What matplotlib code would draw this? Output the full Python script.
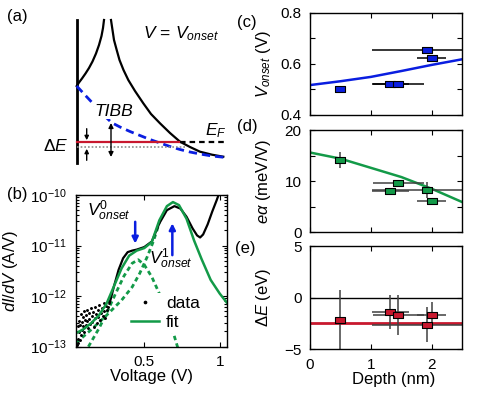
import numpy as np
import matplotlib
matplotlib.use("Agg")
import matplotlib.pyplot as plt
from matplotlib.ticker import LogLocator, NullFormatter

plt.rcParams['font.family'] = ['Liberation Sans', 'DejaVu Sans']
plt.rcParams['mathtext.fontset'] = 'custom'
plt.rcParams['mathtext.rm'] = 'Liberation Sans'
plt.rcParams['mathtext.it'] = 'Liberation Sans:italic'
plt.rcParams['mathtext.bf'] = 'Liberation Sans:bold'
plt.rcParams['font.size'] = 11

green = '#139a48'
blue = '#0a1ee0'
red = '#c8182e'

# ---- panel (a) schematic, in pixel units of the panel
wall_x = 76.7
wall_y = [20, 163]
band_left_x = [76.7, 79, 82, 85.5, 89, 92.5, 96, 99, 101.5, 103, 104]
band_left_y = [86, 82.5, 78.5, 73.5, 68, 61.5, 53.5, 45, 36, 28, 20]
band_right_x = [111, 112.5, 114, 116.7, 119.5, 123.5, 128.3, 135, 143.3, 151, 160, 170, 180, 190, 200, 212, 223.3]
band_right_y = [20, 30, 40, 50, 60, 70, 80, 91, 103.3, 114, 123.3, 133, 141.7, 147, 151.7, 154.7, 156.7]
tibb_x = [76.7, 85, 93, 102, 111.7, 120, 130, 140, 150, 160, 170, 180, 190, 200, 212, 224]
tibb_y = [86, 95, 103.5, 113.5, 122.7, 127, 131.5, 135.5, 139.5, 143, 146.5, 149.5, 152, 154, 156, 157.3]
ef_y = 141.7
ef_red_x = [76.7, 180]
ef_dash_x = [180, 224]
tip_level_y = 147.3
tip_level_x = [76.7, 186]

# ---- panel (b) dI/dV spectrum, values as log10(A/V)
v_dots = [0.056, 0.058, 0.061, 0.064, 0.067, 0.070, 0.073, 0.077, 0.080, 0.083, 0.087, 0.090,
          0.094, 0.097, 0.101, 0.104, 0.108, 0.112, 0.116, 0.119, 0.124, 0.128, 0.133, 0.137,
          0.142, 0.146, 0.151, 0.156, 0.160, 0.165, 0.171, 0.175, 0.181, 0.186, 0.191, 0.197,
          0.203, 0.208, 0.214, 0.219, 0.225, 0.231, 0.236, 0.241, 0.247, 0.252, 0.258, 0.263,
          0.268, 0.274]
log_dots = [-12.97, -12.84, -12.60, -12.93, -12.71, -12.49, -12.86, -12.58, -12.36, -12.77, -12.52, -12.66,
            -12.41, -12.60, -12.30, -12.71, -12.47, -12.38, -12.58, -12.27, -12.49, -12.63, -12.33, -12.45,
            -12.56, -12.24, -12.40, -12.52, -12.31, -12.61, -12.21, -12.44, -12.36, -12.53, -12.27, -12.41,
            -12.18, -12.47, -12.33, -12.24, -12.39, -12.13, -12.30, -12.43, -12.19, -12.27, -12.08, -12.22,
            -12.12, -12.02]
v_data = [0.27, 0.30, 0.33, 0.36, 0.39, 0.42, 0.45, 0.50, 0.55, 0.60, 0.65, 0.70, 0.74, 0.78,
          0.82, 0.85, 0.87, 0.89, 0.92, 0.95, 0.98, 1.01]
log_data = [-12.15, -11.80, -11.48, -11.25, -11.13, -11.10, -11.08, -11.03, -10.92, -10.56, -10.30,
            -10.22, -10.27, -10.43, -10.66, -10.80, -10.84, -10.78, -10.58, -10.33, -10.10, -9.85]
v_fit = [0.05, 0.10, 0.15, 0.20, 0.25, 0.30, 0.35, 0.40, 0.45, 0.50, 0.55, 0.60, 0.65, 0.69,
         0.73, 0.78, 0.83, 0.88, 0.94, 1.00, 1.05]
log_fit = [-12.73, -12.65, -12.53, -12.38, -12.15, -11.80, -11.45, -11.20, -11.10, -11.05, -10.93,
           -10.50, -10.22, -10.14, -10.20, -10.47, -10.90, -11.27, -11.68, -11.95, -12.14]
v_peak0 = [0.13, 0.20, 0.255, 0.31, 0.366, 0.42, 0.46, 0.50, 0.55, 0.60, 0.65, 0.70, 0.725]
log_peak0 = [-13.0, -12.64, -12.31, -11.95, -11.60, -11.35, -11.28, -11.38, -11.62, -11.95, -12.35, -12.8, -13.05]
v_peak1 = [0.05, 0.15, 0.25, 0.35, 0.42, 0.47, 0.52, 0.56, 0.60]
log_peak1 = [-12.92, -12.66, -12.38, -12.08, -11.82, -11.55, -11.22, -10.92, -10.55]
v_onset0 = 0.44
v_onset1 = 0.686
arrow0_log = [-10.53, -10.96]
arrow1_log = [-11.19, -10.56]

# ---- panels (c)-(e) vs depth
depth = [0.5, 1.32, 1.45, 1.92, 2.0]
depth_err = [0.0, 0.30, 0.42, 0.90, 0.24]
v_onset = [0.50, 0.52, 0.52, 0.653, 0.622]
e_alpha = [14.1, 8.0, 9.6, 8.3, 6.05]
e_alpha_err = [1.6, 0, 0, 1.5, 0]
delta_e = [-2.2, -1.4, -1.65, -2.6, -1.7]
delta_e_err = [2.9, 1.65, 1.95, 1.7, 1.25]
depth_model = [0, 0.5, 1.0, 1.5, 2.0, 2.5]
v_onset_model = [0.517, 0.532, 0.549, 0.572, 0.596, 0.618]
e_alpha_model = [15.6, 14.4, 12.6, 10.8, 8.5, 5.9]
delta_e_mean = -2.5

W, H = 491, 396
LAB = 12
fig = plt.figure(figsize=(W / 100, H / 100), dpi=100)


def px_axes(l, t, r, b):
    return fig.add_axes([l / W, 1 - b / H, (r - l) / W, (b - t) / H])


def style(ax):
    ax.tick_params(which='both', direction='in', top=True, right=True, length=3.5, width=0.8,
                   labelsize=11)
    for s in ax.spines.values():
        s.set_linewidth(1.0)


# (a)
axa = px_axes(0, 0, 245, 175)
axa.set_xlim(0, 245)
axa.set_ylim(175, 0)
axa.axis('off')
axa.plot([wall_x, wall_x], wall_y, 'k-', lw=2)
axa.plot(band_left_x, band_left_y, 'k-', lw=1.6)
axa.plot(band_right_x, band_right_y, 'k-', lw=1.6)
axa.plot(tibb_x, tibb_y, color=blue, lw=2, ls=(0, (3, 1.8)))
axa.plot(tip_level_x, [tip_level_y] * 2, color='0.55', lw=1.2, ls=(0, (1, 1.2)))
axa.plot(ef_red_x, [ef_y] * 2, color=red, lw=1.6)
axa.plot(ef_dash_x, [ef_y] * 2, 'k-', lw=1.6, ls=(0, (2.5, 1.8)))
ap = dict(arrowstyle='-|>', lw=1, color='k', mutation_scale=6, shrinkA=0, shrinkB=0)
axa.annotate('', xy=(86.7, ef_y - 1.5), xytext=(86.7, ef_y - 13), arrowprops=ap)
axa.annotate('', xy=(86.7, tip_level_y + 1.5), xytext=(86.7, tip_level_y + 13), arrowprops=ap)
axa.text(94, 116, 'TIBB', fontsize=12.5, style='italic',
         bbox=dict(facecolor='white', edgecolor='none', pad=0.3))
axa.annotate('', xy=(111, 123), xytext=(111, 157),
             arrowprops=dict(arrowstyle='<|-|>', lw=1, color='k', mutation_scale=7, shrinkA=0, shrinkB=0))
axa.text(143, 38, r'$V\,=\,V_{onset}$', fontsize=12.5)
axa.text(205, 135, r'$E_F$', fontsize=12.5)
axa.text(68, 151, r'$\Delta E$', fontsize=12.5, ha='right')

# (b)
axb = px_axes(76.3, 195, 227.3, 346.7)
axb.plot(v_peak1, 10.0 ** np.array(log_peak1), color=green, lw=2, ls=(0, (1.6, 1.2)))
axb.plot(v_peak0, 10.0 ** np.array(log_peak0), color=green, lw=2, ls=(0, (1.6, 1.2)))
axb.plot(v_dots, 10.0 ** np.array(log_dots), 'k.', ms=2.2, label='data')
axb.plot(v_data, 10.0 ** np.array(log_data), 'k-', lw=1.6)
axb.plot(v_fit, 10.0 ** np.array(log_fit), color=green, lw=1.8, label='fit')
axb.set_yscale('log')
axb.set_xlim(0.05, 1.05)
axb.set_ylim(1e-13, 1e-10)
axb.set_xticks([0.5, 1])
axb.set_xticklabels(['0.5', '1'])
axb.yaxis.set_minor_locator(LogLocator(base=10, subs=np.arange(2, 10)))
axb.yaxis.set_minor_formatter(NullFormatter())
style(axb)
axb.tick_params(which='minor', length=2)
axb.tick_params(axis='y', pad=7)
axb.tick_params(axis='x', pad=6)
axb.set_xlabel('Voltage (V)', fontsize=LAB)
axb.xaxis.set_label_coords(0.5, -0.15)
axb.set_ylabel(r'$dI/dV$ (A/V)', fontsize=LAB)
axb.yaxis.set_label_coords(-0.37, 0.5)
for v, lg in [(v_onset0, arrow0_log), (v_onset1, arrow1_log)]:
    axb.annotate('', xy=(v, 10 ** lg[1]), xytext=(v, 10 ** lg[0]),
                 arrowprops=dict(arrowstyle='-|>', lw=1.8, color=blue, mutation_scale=9, shrinkA=0, shrinkB=0))
axb.text(0.122, 10 ** -10.42, r'$V^0_{onset}$', fontsize=12.5)
axb.text(0.53, 10 ** -11.36, r'$V^1_{onset}$', fontsize=12.5)
leg = axb.legend(loc='lower right', bbox_to_anchor=(0.9, 0.03), fontsize=12.5, handlelength=1.6,
                 handletextpad=0.4, labelspacing=0.2, borderpad=0.2, markerscale=1.5)
leg.get_frame().set_edgecolor('none')
leg.get_frame().set_alpha(1)

# (c)-(e)
rect = [(-1.4, -1), (1.4, -1), (1.4, 1), (-1.4, 1), (-1.4, -1)]
axc = px_axes(310, 12.7, 462.3, 115)
axd = px_axes(310, 130, 462.3, 232.3)
axe = px_axes(310, 246, 462.3, 349.3)

axc.plot(depth_model, v_onset_model, color=blue, lw=1.8, zorder=1)
axc.errorbar(depth, v_onset, xerr=depth_err, fmt='none', ecolor='k', elinewidth=1.1, zorder=2)
axc.plot(depth, v_onset, ls='none', marker=rect, ms=7, mfc=blue, mec='k', mew=0.8, zorder=3)
axc.set_ylim(0.4, 0.8)
axc.set_yticks([0.4, 0.6, 0.8])
axc.set_yticks([0.5, 0.7], minor=True)
axc.set_ylabel(r'$V_{onset}$ (V)', fontsize=LAB)

axd.plot(depth_model, e_alpha_model, color=green, lw=1.8, zorder=1)
axd.errorbar(depth, e_alpha, xerr=depth_err, yerr=e_alpha_err, fmt='none', ecolor='0.25',
             elinewidth=1.1, zorder=2)
axd.plot(depth, e_alpha, ls='none', marker=rect, ms=7, mfc=green, mec='k', mew=0.8, zorder=3)
axd.set_ylim(0, 20)
axd.set_yticks([0, 10, 20])
axd.set_yticks([5, 15], minor=True)
axd.set_ylabel(r'$e\alpha$ (meV/V)', fontsize=LAB)

axe.axhline(0, color='k', lw=1, zorder=1)
axe.axhline(delta_e_mean, color=red, lw=2, zorder=1)
axe.errorbar(depth, delta_e, xerr=depth_err, yerr=delta_e_err, fmt='none', ecolor='0.25',
             elinewidth=1.1, zorder=2)
axe.plot(depth, delta_e, ls='none', marker=rect, ms=7, mfc=red, mec='k', mew=0.8, zorder=3)
axe.set_ylim(-5, 5)
axe.set_yticks([-5, 0, 5])
axe.set_yticklabels(['\u22125', '0', '5'])
axe.set_ylabel(r'$\Delta E$ (eV)', fontsize=LAB)
axe.set_xlabel('Depth (nm)', fontsize=LAB)
axe.xaxis.set_label_coords(0.55, -0.22)

for ax in (axc, axd, axe):
    ax.set_xlim(0, 2.5)
    ax.set_xticks([0, 1, 2])
    style(ax)
    ax.tick_params(which='minor', length=3.5)
    ax.tick_params(axis='both', pad=6)
    ax.yaxis.set_label_coords(-0.245, 0.5)
axc.set_xticklabels([])
axd.set_xticklabels([])

fig.text(7 / W, 1 - 17 / H, '(a)', fontsize=LAB, va='center')
fig.text(7 / W, 1 - 195 / H, '(b)', fontsize=LAB, va='center')
fig.text(237 / W, 1 - 22 / H, '(c)', fontsize=LAB, va='center')
fig.text(237 / W, 1 - 127 / H, '(d)', fontsize=LAB, va='center')
fig.text(235 / W, 1 - 249 / H, '(e)', fontsize=LAB, va='center')

fig.savefig('out.png', dpi=100)
